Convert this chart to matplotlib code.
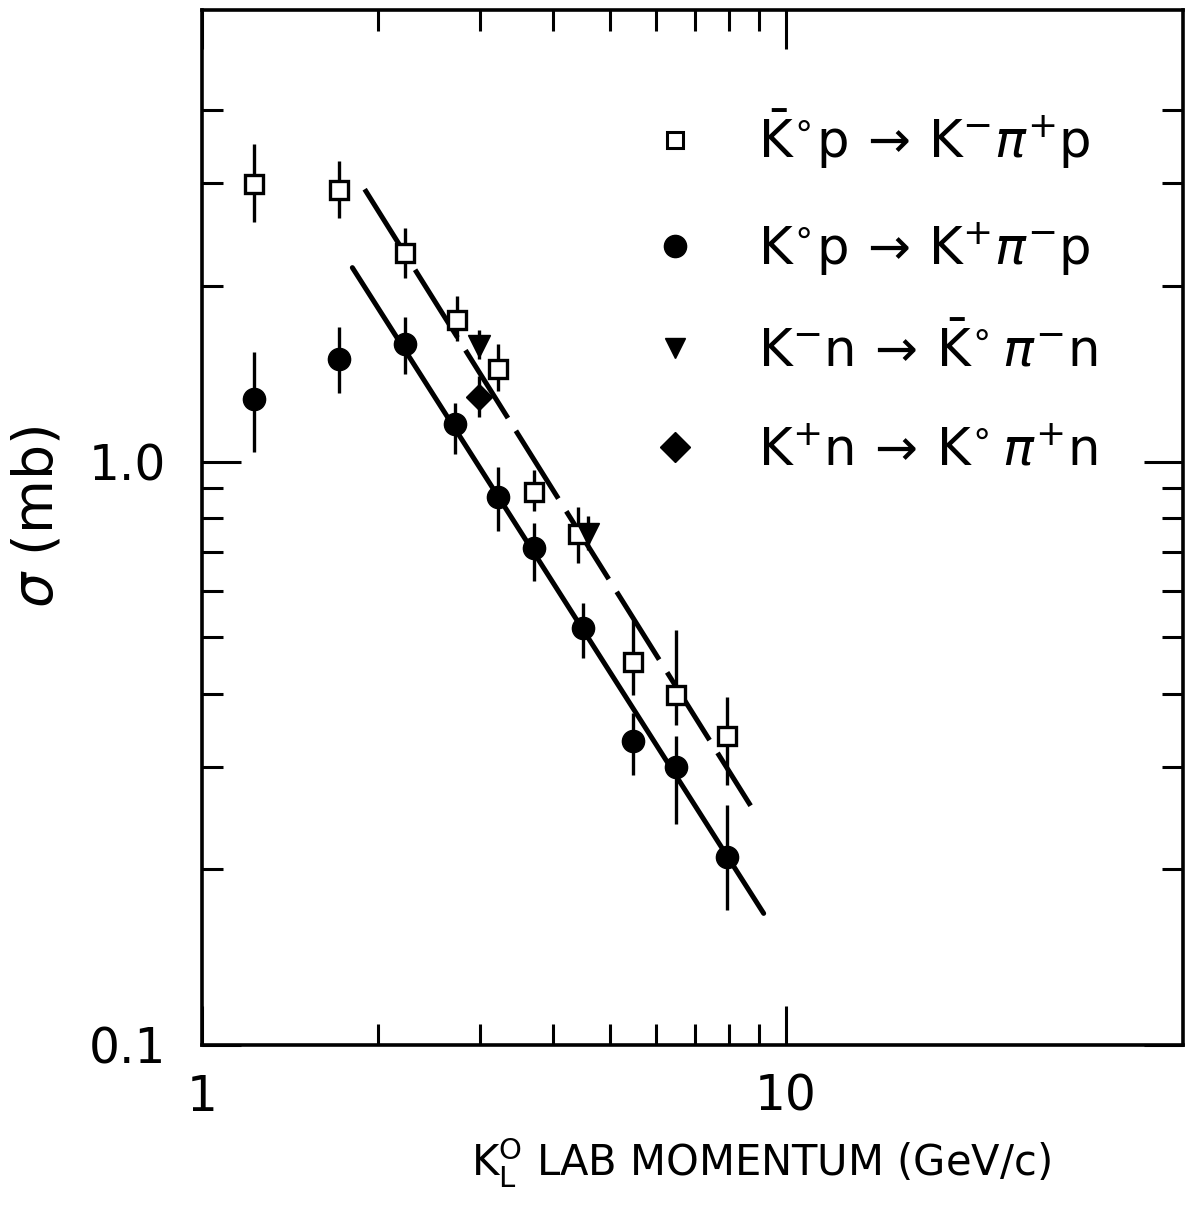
import numpy as np
import matplotlib
matplotlib.use("Agg")
import matplotlib.pyplot as plt
from matplotlib.lines import Line2D
from matplotlib.ticker import FixedLocator, NullFormatter

plt.rcParams['font.family'] = ['DejaVu Sans']
plt.rcParams['mathtext.fontset'] = 'dejavusans'

# K0bar p -> K- pi+ p  (open squares)
sq_p = [1.23, 1.72, 2.23, 2.74, 3.22, 3.71, 4.40, 5.47, 6.50, 7.95]
sq_s = [2.99, 2.92, 2.28, 1.75, 1.44, 0.885, 0.750, 0.454, 0.398, 0.339]
sq_hi = [3.50, 3.28, 2.51, 1.92, 1.59, 0.969, 0.837, 0.536, 0.515, 0.395]
sq_lo = [2.57, 2.62, 2.06, 1.61, 1.32, 0.821, 0.671, 0.398, 0.354, 0.279]

# K0 p -> K+ pi- p  (filled circles)
ci_p = [1.23, 1.72, 2.23, 2.71, 3.22, 3.71, 4.50, 5.47, 6.50, 7.95]
ci_s = [1.28, 1.50, 1.59, 1.16, 0.871, 0.712, 0.519, 0.332, 0.299, 0.210]
ci_hi = [1.54, 1.70, 1.77, 1.26, 0.977, 0.786, 0.573, 0.371, 0.338, 0.258]
ci_lo = [1.04, 1.31, 1.41, 1.03, 0.759, 0.623, 0.461, 0.290, 0.239, 0.170]

# K- n -> K0bar pi- n  (filled down triangles)
tr_p = [2.98, 4.59]
tr_s = [1.575, 0.750]
tr_hi = [1.68, 0.805]
tr_lo = [1.50, 0.706]

# K+ n -> K0 pi+ n  (filled diamond)
di_p = [2.98]
di_s = [1.29]
di_hi = [1.40]
di_lo = [1.19]

# power-law fits (end points)
fit_solid_p = [1.81, 9.17]
fit_solid_s = [2.15, 0.168]
fit_dash_p = [1.90, 8.71]
fit_dash_s = [2.93, 0.257]

labels = [r'$\bar{\rm K}^{\circ}{\rm p}\,\rightarrow\,{\rm K}^{-}\pi^{+}{\rm p}$',
          r'${\rm K}^{\circ}{\rm p}\,\rightarrow\,{\rm K}^{+}\pi^{-}{\rm p}$',
          r'${\rm K}^{-}{\rm n}\,\rightarrow\,\bar{\rm K}^{\circ}\,\pi^{-}{\rm n}$',
          r'${\rm K}^{+}{\rm n}\,\rightarrow\,{\rm K}^{\circ}\,\pi^{+}{\rm n}$']


def errs(v, hi, lo):
  v = np.array(v)
  return [v - np.array(lo), np.array(hi) - v]


fig = plt.figure(figsize=(11.88, 12.22), dpi=100)
ax = fig.add_axes([0.170, 0.145, 0.826, 0.847])
ax.set_xscale('log')
ax.set_yscale('log')

ax.plot(fit_solid_p, fit_solid_s, color='k', lw=3.6, solid_capstyle='round', zorder=2)
ax.plot(fit_dash_p, fit_dash_s, color='k', lw=3.6, dashes=(16, 3), zorder=2)

ekw = dict(ecolor='k', elinewidth=2.4, capsize=0, linestyle='none', zorder=3)
ax.errorbar(sq_p, sq_s, yerr=errs(sq_s, sq_hi, sq_lo), marker='s', ms=13,
            mfc='white', mec='k', mew=2.4, **ekw)
ax.errorbar(ci_p, ci_s, yerr=errs(ci_s, ci_hi, ci_lo), marker='o', ms=16,
            mfc='k', mec='k', **ekw)
ax.errorbar(tr_p, tr_s, yerr=errs(tr_s, tr_hi, tr_lo), marker='v', ms=16,
            mfc='k', mec='k', **ekw)
ax.errorbar(di_p, di_s, yerr=errs(di_s, di_hi, di_lo), marker='D', ms=13,
            mfc='k', mec='k', **ekw)

ax.set_xlim(1, 48)
ax.set_ylim(0.1, 5.95)

ax.xaxis.set_major_locator(FixedLocator([1, 10]))
ax.xaxis.set_minor_locator(FixedLocator([2, 3, 4, 5, 6, 7, 8, 9]))
ax.yaxis.set_major_locator(FixedLocator([0.1, 1.0]))
ax.yaxis.set_minor_locator(FixedLocator([0.2, 0.3, 0.4, 0.5, 0.6, 0.7, 0.8, 0.9, 2, 3, 4]))
ax.set_xticklabels(['1', '10'])
ax.set_yticklabels(['0.1', '1.0'])
ax.xaxis.set_minor_formatter(NullFormatter())
ax.yaxis.set_minor_formatter(NullFormatter())

ax.tick_params(which='both', direction='in', top=True, right=True, width=2.2, color='k')
ax.tick_params(which='major', length=28, labelsize=35)
ax.tick_params(which='minor', length=15)
ax.tick_params(axis='x', which='major', pad=20)
ax.tick_params(axis='y', which='major', pad=26)
for s in ax.spines.values():
  s.set_linewidth(2.6)

ax.set_xlabel(r'K$^{\rm O}_{\rm L}$ LAB MOMENTUM (GeV/c)', fontsize=30)
ax.set_ylabel(r'$\sigma$ (mb)', fontsize=40)
ax.xaxis.set_label_coords(0.57, -0.088)
ax.yaxis.set_label_coords(-0.14, 0.51)

handles = [Line2D([], [], ls='none', marker='s', ms=11, mfc='white', mec='k', mew=2.2),
           Line2D([], [], ls='none', marker='o', ms=16, mfc='k', mec='k'),
           Line2D([], [], ls='none', marker='v', ms=15, mfc='k', mec='k'),
           Line2D([], [], ls='none', marker='D', ms=15, mfc='k', mec='k')]
ax.legend(handles, labels, loc='upper right', bbox_to_anchor=(0.933, 0.925),
          frameon=False, fontsize=37, labelspacing=0.94, handletextpad=1.1,
          handlelength=1.0, borderaxespad=0)

fig.savefig('out.png', dpi=100)
